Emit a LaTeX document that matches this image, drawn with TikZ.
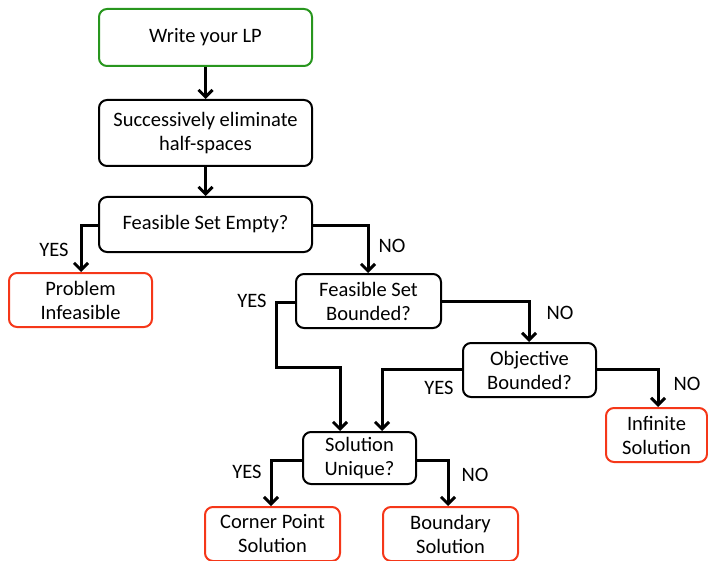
\documentclass[tikz,border=0pt]{standalone}
\usepackage{fontspec}
\setmainfont{Carlito}
\usetikzlibrary{arrows.meta}
\definecolor{boxgreen}{RGB}{40,150,30}
\definecolor{boxred}{RGB}{245,55,25}
\tikzset{
  box/.style={draw=black, line width=2pt, rounded corners=8pt, align=center,
    inner sep=0pt, font=\fontsize{20.5}{24}\selectfont},
  greenbox/.style={box, draw=boxgreen},
  redbox/.style={box, draw=boxred},
  conn/.style={line width=3pt, -{Straight Barb[length=7pt,width=14pt,line width=3pt]}},
  lbl/.style={font=\fontsize{20.5}{24}\selectfont, inner sep=0pt}
}
\begin{document}
\begin{tikzpicture}[x=1pt,y=-1pt]
\useasboundingbox (0,0) rectangle (708,561);
\node[greenbox, minimum width=213pt, minimum height=57pt] (lp) at (205.5,37.5) {Write your LP};
\node[box, minimum width=213pt, minimum height=66pt] (elim) at (205.5,133) {Successively eliminate\\half-spaces};
\node[box, minimum width=213pt, minimum height=55pt] (empty) at (205.5,224.5) {Feasible Set Empty?};
\node[redbox, minimum width=143pt, minimum height=54pt] (infeas) at (80.5,300) {Problem\\Infeasible};
\node[box, minimum width=145pt, minimum height=54pt] (bnd) at (368.5,301) {Feasible Set\\Bounded?};
\node[box, minimum width=133pt, minimum height=54pt] (obj) at (529.5,370) {Objective\\Bounded?};
\node[redbox, minimum width=101pt, minimum height=54pt] (inf) at (656.5,435) {Infinite\\Solution};
\node[box, minimum width=113pt, minimum height=52pt] (uniq) at (359.5,458) {Solution\\Unique?};
\node[redbox, minimum width=135pt, minimum height=54pt] (corner) at (272.5,534) {Corner Point\\Solution};
\node[redbox, minimum width=135pt, minimum height=54pt] (bdry) at (450.5,534) {Boundary\\Solution};

\coordinate (c1) at (81,225);
\coordinate (c2) at (368,225);
\coordinate (c3) at (276,302);
\coordinate (c4) at (276,367);
\coordinate (c5) at (340,367);
\coordinate (c6) at (529,301);
\coordinate (c7) at (382,369);
\coordinate (c8) at (658,369);
\coordinate (c9) at (271,460);
\coordinate (c10) at (448,460);

\draw[conn] (lp) -- (elim);
\draw[conn] (elim) -- (empty);
\draw[conn] (empty.west |- c1) -- (c1) -- (c1 |- infeas.north);
\draw[conn] (empty.east |- c2) -- (c2) -- (c2 |- bnd.north);
\draw[conn] (bnd.west |- c3) -- (c3) -- (c4) -- (c5) -- (c5 |- uniq.north);
\draw[conn] (bnd.east |- c6) -- (c6) -- (c6 |- obj.north);
\draw[conn] (obj.west |- c7) -- (c7) -- (c7 |- uniq.north);
\draw[conn] (obj.east |- c8) -- (c8) -- (c8 |- inf.north);
\draw[conn] (uniq.west |- c9) -- (c9) -- (c9 |- corner.north);
\draw[conn] (uniq.east |- c10) -- (c10) -- (c10 |- bdry.north);

\node[lbl] (y1) at (54,250) {YES};
\node[lbl] (n1) at (392,246) {NO};
\node[lbl] (y2) at (252,301) {YES};
\node[lbl] (n2) at (560,313) {NO};
\node[lbl] (y3) at (439,388) {YES};
\node[lbl] (n3) at (687,384) {NO};
\node[lbl] (y4) at (247,472) {YES};
\node[lbl] (n4) at (475,475) {NO};
\end{tikzpicture}
\end{document}
